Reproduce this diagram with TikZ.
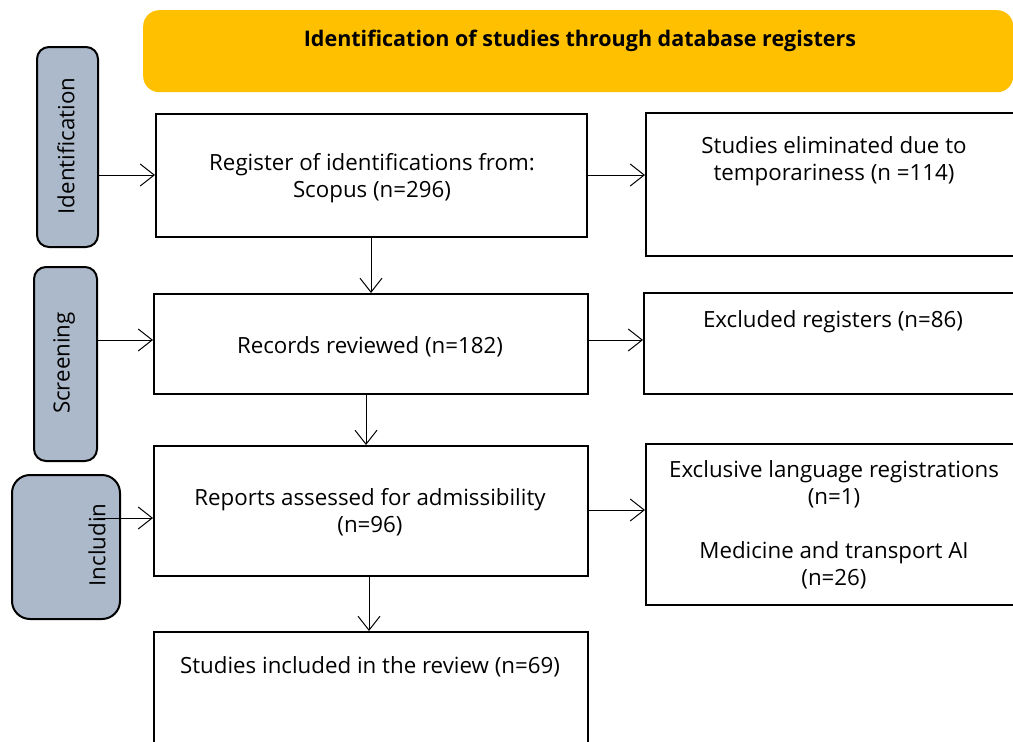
\documentclass[tikz,border=0pt]{standalone}
\usepackage{fontspec}
\setmainfont{Open Sans}
\usetikzlibrary{arrows.meta}
\definecolor{banner}{HTML}{FFC000}
\definecolor{phase}{HTML}{ACB9CA}
\begin{document}
\begin{tikzpicture}[x=1pt,y=-1pt,
  font=\fontsize{22.3}{27}\selectfont,
  stagebox/.style={draw=black,line width=2.4pt,fill=white,anchor=north west,inner sep=0pt},
  phasebox/.style={draw=black,line width=2pt,fill=phase,rounded corners=12pt,anchor=north west,inner sep=0pt},
  flow/.style={line width=1pt,-{Straight Barb[length=14pt,width=22pt,line width=1pt]}}]
\useasboundingbox (0,0) rectangle (1013,742);
\clip (0,0) rectangle (1013,742);

% banner
\node[fill=banner,rounded corners=16pt,anchor=north west,minimum width=870pt,minimum height=82pt,inner sep=0pt] (ban) at (143,10) {};
\node[font=\fontsize{21.5}{26}\selectfont\bfseries] (bantxt) at (580,41) {Identification of studies through database registers};

% phase labels
\node[phasebox,minimum width=61pt,minimum height=200pt] (pid) at (36,46) {};
\node[rotate=90] (pidtxt) at (66,146) {Identification};
\node[phasebox,minimum width=63pt,minimum height=194pt] (pscr) at (33,266) {};
\node[rotate=90] (pscrtxt) at (64,363) {Screening};
\node[phasebox,rounded corners=18pt,minimum width=108pt,minimum height=144pt] (pinc) at (11,474) {};
\node[rotate=90] (pinctxt) at (97,545) {Includin};

% main column
\node[stagebox,minimum width=431pt,minimum height=123pt] (b1) at (155,113) {};
\node[align=center] (b1t) at (372,178) {Register of identifications from:\\Scopus (n=296)};
\node[stagebox,minimum width=434pt,minimum height=100pt] (b2) at (153,293) {};
\node (b2t) at (370,347) {Records reviewed (n=182)};
\node[stagebox,minimum width=434pt,minimum height=130pt] (b3) at (153,445) {};
\node[align=center] (b3t) at (370,512) {Reports assessed for admissibility\\(n=96)};
\node[stagebox,minimum width=434pt,minimum height=130pt] (b4) at (153,631) {};
\node (b4t) at (370,667) {Studies included in the review (n=69)};

% exclusion column
\node[stagebox,minimum width=390pt,minimum height=143pt] (r1) at (645,112) {};
\node[align=center] (r1t) at (834,161) {Studies eliminated due to\\temporariness (n =114)};
\node[stagebox,minimum width=390pt,minimum height=101pt] (r2) at (643,292) {};
\node (r2t) at (833,322) {Excluded registers (n=86)};
\node[stagebox,minimum width=390pt,minimum height=161pt] (r3) at (645,443) {};
\node[align=center] (r3t) at (834,484) {Exclusive language registrations\\(n=1)};
\node[align=center] (r3u) at (834,565) {Medicine and transport AI\\(n=26)};

% connectors
\draw[flow] (pid.east |- 0,175) -- (b1.west |- 0,175);
\draw[flow] (b1.east |- 0,175) -- (r1.west |- 0,175);
\draw[flow] (371,236) -- (b2.north -| 371,0);
\draw[flow] (pscr.east |- 0,340) -- (b2.west |- 0,340);
\draw[flow] (b2.east |- 0,340) -- (r2.west |- 0,340);
\draw[flow] (366,393) -- (b3.north -| 366,0);
\coordinate (incstart) at (97,518);
\draw[flow] (incstart) -- (b3.west |- incstart);
\draw[flow] (b3.east |- 0,510) -- (r3.west |- 0,510);
\draw[flow] (369,575) -- (b4.north -| 369,0);
\end{tikzpicture}
\end{document}
